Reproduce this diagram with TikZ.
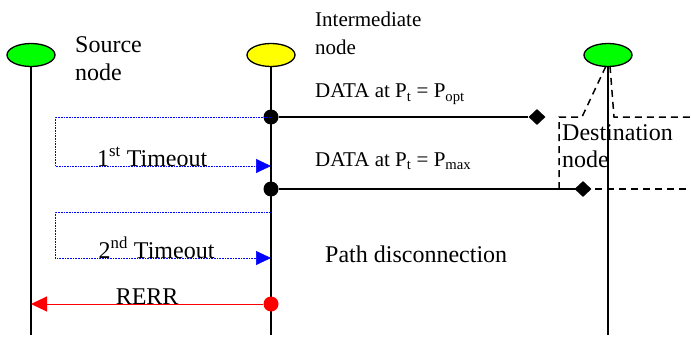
\documentclass[tikz,border=0pt]{standalone}
\usepackage{fontspec}
\setmainfont{Liberation Serif}
\usetikzlibrary{shapes.geometric,arrows.meta}

\definecolor{nodegreen}{RGB}{0,255,0}
\definecolor{nodeyellow}{RGB}{255,255,0}
\definecolor{timeblue}{RGB}{0,0,255}
\definecolor{rerrred}{RGB}{255,0,0}

\begin{document}
\begin{tikzpicture}[x=1pt,y=-1pt]
  \useasboundingbox (0,0) rectangle (691,337);

      % the three stations
      \begin{scope}[every node/.style={ellipse,draw,line width=1.3pt,minimum width=48pt,minimum height=23pt,inner sep=0pt}]
        \node[fill=nodegreen]  (src) at (31,55)  {};
        \node[fill=nodeyellow] (mid) at (271,55) {};
        \node[fill=nodegreen]  (dst) at (608,55) {};
      \end{scope}

      \coordinate (srcend) at (31,335);
      \coordinate (midend) at (271,335);
      \coordinate (dstend) at (608,335);
      \draw[line width=2pt] (src.south) -- (srcend);
      \draw[line width=2pt] (mid.south) -- (midend);
      \draw[line width=2pt] (dst.south) -- (dstend);

      % dots and diamonds
      \begin{scope}[every node/.style={circle,inner sep=0pt,minimum size=15pt}]
        \node[fill=black]   (dot1) at (271,117) {};
        \node[fill=black]   (dot2) at (271,189) {};
        \node[fill=rerrred] (rdot) at (271,304) {};
      \end{scope}
      \begin{scope}[every node/.style={diamond,fill=black,inner sep=0pt,minimum width=17pt,minimum height=16pt}]
        \node (dia1) at (537,117) {};
        \node (dia2) at (583,189) {};
      \end{scope}

      \coordinate (t1a) at (55,117);
      \coordinate (t1b) at (55,166);
      \coordinate (t1end) at (271,166);
      \coordinate (t2top) at (271,212);
      \coordinate (t2a) at (55,212);
      \coordinate (t2b) at (55,258);
      \coordinate (t2end) at (271,258);
      \coordinate (rerrend) at (31,304);

      % destination callout
      \draw[dashed,dash pattern=on 7pt off 5pt,line width=1.5pt]
        (559,189) -- (559,117) -- (582,117) -- (606,66)
        (610,66) -- (614,117) -- (691,117);
      \draw[dashed,dash pattern=on 7pt off 5pt,line width=1.5pt] (559,189) -- (691,189);

      \begin{scope}[every node/.style={font=\fontsize{24}{28}\selectfont,inner sep=0pt}]
        \draw[line width=1.5pt] (dot1) -- (dia1);
        \draw[line width=1.5pt] (dot2) -- (dia2);

        \draw[timeblue,densely dotted,line width=0.6pt,-{Triangle[length=15pt,width=14pt]}]
          (dot1.center) -- (t1a) -- (t1b) -- node[anchor=base,black,pos=0.45] {1\textsuperscript{st} Timeout} (t1end);
        \draw[timeblue,densely dotted,line width=0.6pt,-{Triangle[length=15pt,width=14pt]}]
          (t2top) -- (t2a) -- (t2b) -- node[anchor=base,black,pos=0.47] {2\textsuperscript{nd} Timeout} (t2end);
        \draw[rerrred,line width=1pt,-{Triangle[length=16pt,width=15pt]}]
          (rdot) -- node[anchor=base,black,pos=0.5] {RERR} (rerrend);

        \node[anchor=base west,align=left] (srclabel) at (75,81) {Source\\node};
        \node[anchor=base west,align=left,font=\fontsize{24}{27}\selectfont] (dstlabel) at (562,167) {Destination\\node};
        \node[anchor=base west] (pathlabel) at (325,262) {Path disconnection};
      \end{scope}

      \begin{scope}[every node/.style={font=\fontsize{21}{28}\selectfont,inner sep=0pt,anchor=base west}]
        \node[align=left] (midlabel) at (315,55) {Intermediate\\node};
        \node (optlabel) at (315,98) {DATA at P\textsubscript{t} = P\textsubscript{opt}};
        \node (maxlabel) at (315,166) {DATA at P\textsubscript{t} = P\textsubscript{max}};
      \end{scope}

    \end{tikzpicture}
\end{document}
